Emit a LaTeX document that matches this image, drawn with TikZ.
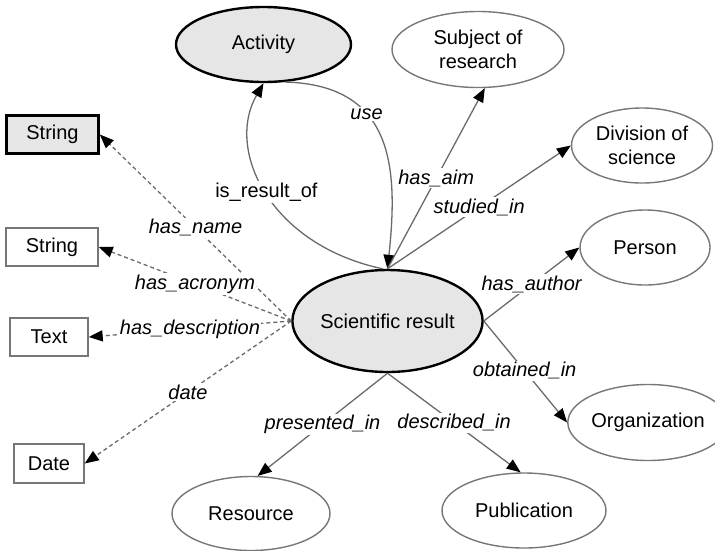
\documentclass[tikz,border=0pt]{standalone}
\usepackage{fontspec}
\setmainfont{Liberation Sans}
\usetikzlibrary{shapes.geometric,arrows.meta}
\definecolor{classfill}{HTML}{E6E6E6}
\definecolor{edgegray}{HTML}{6A6A6A}
\definecolor{rimgray}{HTML}{777777}

\begin{document}
\begin{tikzpicture}[x=1pt,y=-1pt,
  every node/.style={font=\fontsize{20}{24.5}\selectfont},
  mainclass/.style={ellipse,draw=black,line width=2.4pt,fill=classfill,inner sep=0pt},
  otherclass/.style={ellipse,draw=rimgray,line width=1.4pt,fill=white,inner sep=0pt,align=center},
  littype/.style={rectangle,draw=rimgray,line width=1.4pt,fill=white,inner sep=0pt},
  keytype/.style={rectangle,draw=black,line width=2.6pt,fill=classfill,inner sep=0pt},
  relation/.style={draw=edgegray,line width=1.3pt,-{Triangle[length=14pt,width=11pt,color=black]}},
  attribute/.style={relation,dash pattern=on 4pt off 3pt},
  rel/.style={fill=white,inner sep=1.5pt,font=\fontsize{20}{24.5}\selectfont\itshape},
  uprel/.style={fill=white,inner sep=1.5pt}]

\useasboundingbox (0,0) rectangle (715,550);

% central class and its neighbours
\node[mainclass,minimum width=185pt,minimum height=102pt] (sr) at (387.5,321) {Scientific result};
\node[mainclass,minimum width=175pt,minimum height=75pt] (act) at (263.5,44.5) {Activity};
\node[otherclass,minimum width=172pt,minimum height=76pt] (sub) at (478,49.5) {Subject of\\research};
\node[otherclass,minimum width=141pt,minimum height=75pt] (div) at (642,145.5) {Division of\\science};
\node[otherclass,minimum width=130pt,minimum height=75pt] (per) at (645,247.5) {Person};
\node[otherclass,minimum width=158pt,minimum height=76pt] (org) at (648,422.5) {Organization};
\node[otherclass,minimum width=164pt,minimum height=75pt] (pub) at (524,510.5) {Publication};
\node[otherclass,minimum width=158pt,minimum height=74pt] (res) at (251,513.5) {Resource};

% literal value types
\node[keytype,minimum width=92pt,minimum height=38pt] (str1) at (52.5,134.5) {String};
\node[littype,minimum width=92pt,minimum height=38pt] (str2) at (52,247) {String};
\node[littype,minimum width=78pt,minimum height=38pt] (txt) at (49,337) {Text};
\node[littype,minimum width=70pt,minimum height=39pt] (dat) at (49,463.5) {Date};

% object properties
\draw[relation] (sr.95) .. controls (270,245) and (225,150) .. (act.south)
  node[uprel,pos=0.5] {is\_result\_of};
\draw[relation] (act.-60) .. controls (395,85) and (398,170) .. (sr.north)
  node[rel,pos=0.36] {use};
\draw[relation] (sr.north) -- (sub.280) node[rel,pos=0.5] {has\_aim};
\draw[relation] (sr.north) -- (div.west) node[rel,pos=0.5] {studied\_in};
\draw[relation] (sr.east) -- (per.west) node[rel,pos=0.5] {has\_author};
\draw[relation] (sr.east) -- (org.west) node[rel,pos=0.49] {obtained\_in};
\draw[relation] (sr.south) -- (pub.95) node[rel,pos=0.5] {described\_in};
\draw[relation] (sr.south) -- (res.80) node[rel,pos=0.5] {presented\_in};

% datatype properties
\draw[attribute] (sr.west) -- (str1.east) node[rel,pos=0.5] {has\_name};
\draw[attribute] (sr.west) -- (str2.east) node[rel,pos=0.5] {has\_acronym};
\draw[attribute] (sr.west) -- (txt.east) node[rel,pos=0.5] {has\_description};
\draw[attribute] (sr.west) -- (dat.east) node[rel,pos=0.5] {date};

\end{tikzpicture}
\end{document}
